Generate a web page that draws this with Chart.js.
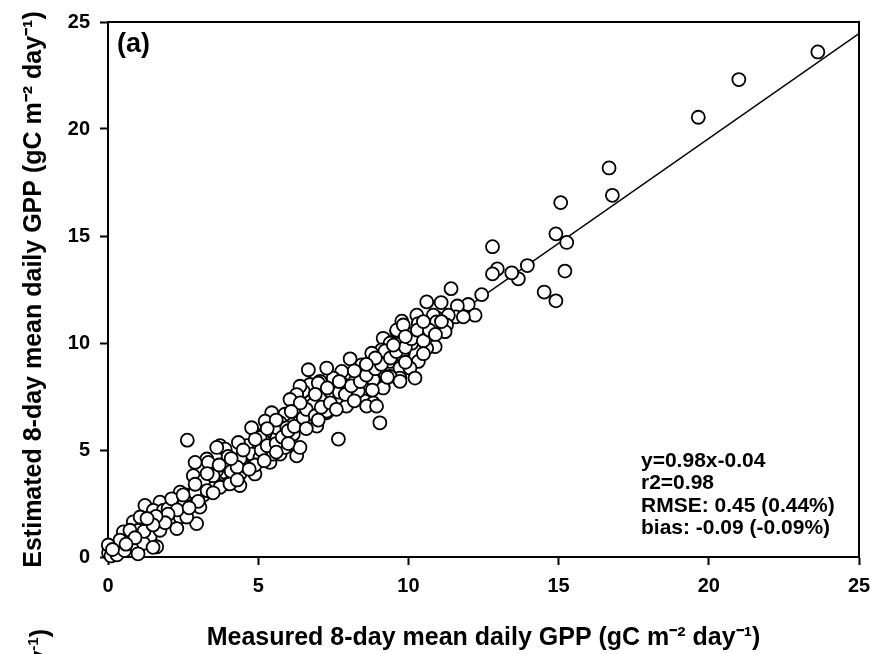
<!DOCTYPE html>
<html>
<head>
<meta charset="utf-8">
<script src="https://cdn.jsdelivr.net/npm/chart.js@4.4.0/dist/chart.umd.min.js"></script>
<style>
  html, body { margin: 0; padding: 0; background: #fff; }
  #wrap { width: 885px; height: 654px; }
</style>
</head>
<body>
<div id="wrap"><canvas id="c" width="885" height="654"></canvas></div>
<script>
// Measured (x) and estimated (y) 8-day mean daily GPP
const measured = [
  23.63, 21.0, 19.65, 16.68, 16.79, 15.07, 14.91, 15.27, 15.21, 14.52,
  14.91, 13.96, 13.66, 13.44, 12.96, 12.8, 12.8, 12.44, 11.42, 11.09,
  10.61, 11.99, 11.63, 12.22, 11.58, 10.94, 10.28, 9.78, 10.83, 11.83,
  11.33, 10.33, 10.94, 11.27, 9.61, 10.16, 10.44, 11.22, 10.72, 10.89,
  10.61, 9.16, 9.39, 9.11, 8.78, 9.83, 10.05, 10.33, 8.06, 8.45,
  8.72, 9.39, 9.72, 9.05, 10.05, 10.22, 9.72, 9.39, 8.83, 8.33,
  8.22, 9.16, 8.55, 7.83, 7.78, 7.5, 7.28, 6.67, 7.06, 6.72,
  6.5, 7.17, 7.61, 8.17, 8.55, 8.83, 7.94, 7.45, 6.83, 7.0,
  6.39, 7.39, 8.33, 6.28, 6.06, 8.61, 7.28, 5.89, 5.45, 6.39,
  6.78, 5.73, 5.23, 4.78, 9.05, 7.67, 6.17, 5.62, 5.23, 5.17,
  5.95, 6.28, 5.0, 4.62, 4.34, 3.73, 4.17, 4.62, 3.29, 3.51,
  3.9, 4.39, 4.89, 5.39, 5.73, 2.64, 3.9, 2.9, 3.62, 3.4,
  2.84, 4.0, 4.39, 3.06, 2.4, 2.73, 2.17, 1.73, 1.23, 1.51,
  1.84, 2.06, 2.4, 2.95, 2.29, 1.34, 0.84, 1.01, 0.51, 1.4,
  1.73, 1.62, 0.84, 0.29, 0.07, 0.02, 4.78, 4.62, 4.17, 3.73,
  3.17, 2.51, 3.06, 2.0, 2.12, 2.62, 1.07, 0.73, 0.4, 1.18,
  0.01, 0.18, 9.22, 9.61, 9.83, 10.39, 10.11, 9.78, 9.72, 9.16,
  8.83, 8.94, 7.28, 6.95, 6.39, 5.89, 5.5, 5.06, 5.06, 5.62,
  5.95, 3.62, 4.06, 3.34, 0.1, 0.3, 0.55, 0.15, 1.0, 1.5,
  2.3, 2.6, 2.9, 3.2, 3.5, 3.3, 2.0, 1.9, 1.6, 1.2,
  1.5, 0.9, 0.6, 1.3, 3.8, 4.1, 4.4, 4.0, 4.3, 4.9,
  5.1, 5.3, 5.6, 5.8, 6.0, 6.2, 6.5, 6.6, 6.9, 7.1,
  7.4, 7.7, 7.9, 8.1, 8.4, 8.6, 8.9, 9.1, 9.4, 9.6,
  9.9, 10.1, 10.3, 10.5, 10.7, 10.9, 11.1, 10.5, 9.9, 9.5,
  8.9, 8.6, 8.2, 7.7, 7.3, 6.9, 6.4, 6.1, 5.6, 5.3,
  4.9, 4.5, 4.1, 3.7, 3.3, 2.9, 2.5, 6.0, 6.6, 7.0,
  7.6, 8.2, 8.8, 9.3, 9.9, 10.5, 4.3, 4.7, 5.2, 5.6,
  3.5, 3.0, 2.7
];
const estimated = [
  23.6, 22.31, 20.55, 18.18, 16.9, 16.56, 15.1, 14.7, 13.36, 12.38,
  11.97, 13.62, 13.0, 13.28, 13.46, 13.23, 14.5, 12.26, 12.54, 11.89,
  11.92, 11.8, 11.73, 11.3, 11.22, 11.18, 11.3, 11.02, 11.3, 11.22,
  11.3, 10.91, 10.99, 10.84, 10.53, 10.45, 10.3, 10.53, 9.99, 9.83,
  9.75, 10.22, 9.99, 9.68, 9.52, 9.52, 10.06, 9.14, 9.26, 8.98,
  8.83, 9.14, 8.83, 8.67, 8.83, 8.36, 8.36, 8.44, 8.36, 8.44,
  8.21, 7.98, 7.82, 8.06, 8.67, 8.36, 8.83, 8.75, 8.21, 8.06,
  7.75, 7.51, 7.43, 7.43, 7.28, 7.2, 7.05, 7.05, 7.13, 8.13,
  7.98, 7.75, 7.75, 7.59, 7.36, 7.05, 6.74, 6.67, 6.74, 6.35,
  6.2, 6.28, 6.35, 6.04, 6.27, 5.51, 5.74, 5.58, 5.81, 5.43,
  5.2, 4.73, 4.73, 5.2, 5.35, 5.2, 4.42, 4.42, 4.58, 4.04,
  3.96, 3.88, 3.88, 4.42, 4.81, 5.46, 5.04, 4.42, 4.04, 3.49,
  3.8, 3.42, 3.34, 3.26, 3.03, 2.64, 2.56, 2.56, 2.41, 2.18,
  2.18, 1.79, 1.87, 1.56, 1.33, 1.48, 1.64, 1.25, 1.17, 0.94,
  1.25, 0.48, 0.48, 0.48, 0.17, 0.2, 4.81, 4.19, 3.72, 3.26,
  2.88, 2.41, 2.33, 2.26, 2.72, 1.87, 1.87, 1.25, 0.79, 0.64,
  0.56, 0.25, 9.63, 10.6, 10.84, 10.38, 9.99, 9.45, 8.21, 7.9,
  8.29, 7.05, 6.82, 6.12, 5.12, 5.12, 4.81, 4.65, 5.58, 6.04,
  6.04, 5.12, 3.42, 4.42, 0.05, 0.1, 0.3, 0.35, 0.15, 0.45,
  2.2, 2.9, 3.0, 3.6, 3.8, 3.1, 2.0, 1.6, 1.9, 1.2,
  1.5, 0.9, 0.6, 1.8, 4.3, 4.0, 4.6, 4.7, 4.2, 4.3,
  5.0, 5.2, 5.3, 5.6, 5.9, 6.1, 6.5, 6.9, 6.6, 7.0,
  7.2, 7.7, 7.6, 8.0, 8.2, 8.5, 8.8, 9.0, 9.3, 9.6,
  9.8, 10.2, 10.6, 10.1, 10.6, 10.4, 11.0, 11.0, 10.3, 9.9,
  9.3, 9.0, 8.7, 8.2, 7.9, 7.6, 7.2, 6.8, 6.4, 6.0,
  5.5, 5.0, 4.6, 4.3, 3.9, 3.4, 2.9, 5.3, 6.0, 6.4,
  6.9, 7.3, 7.8, 8.4, 9.1, 9.5, 3.6, 4.1, 4.5, 4.9,
  3.0, 2.6, 2.3
];
// Regression line y = 0.98x - 0.04, end points as printed
const fitX = [0, 25];
const fitY = [-0.04, 24.46];
const xTicks = [0, 5, 10, 15, 20, 25];
const yTicks = [0, 5, 10, 15, 20, 25];
const statsLines = ['y=0.98x-0.04', 'r2=0.98', 'RMSE: 0.45 (0.44%)', 'bias: -0.09 (-0.09%)'];
const panelLabel = '(a)';
const xTitle = 'Measured 8-day mean daily GPP (gC m\u207B\u00B2 day\u207B\u00B9)';
const yTitle = 'Estimated 8-day mean daily GPP (gC m\u207B\u00B2 day\u207B\u00B9)';

const FONT = "'Liberation Sans', Arial, Helvetica, sans-serif";

const points = measured.map((x, i) => ({x: x, y: estimated[i]}));
const fitLine = fitX.map((x, i) => ({x: x, y: fitY[i]}));

const framePlugin = {
  id: 'frame',
  afterDatasetsDraw(chart) {
    const {ctx, chartArea: a} = chart;
    ctx.save();
    ctx.strokeStyle = '#000';
    ctx.lineWidth = 2;
    ctx.beginPath();
    ctx.moveTo(a.left, a.top);
    ctx.lineTo(a.right, a.top);
    ctx.lineTo(a.right, a.bottom);
    ctx.stroke();
    ctx.restore();
  },
  afterDraw(chart) {
    const {ctx} = chart;
    ctx.save();
    ctx.fillStyle = '#000';
    // panel label
    ctx.font = 'bold 27px ' + FONT;
    ctx.textBaseline = 'middle';
    ctx.textAlign = 'left';
    ctx.fillText(panelLabel, 117, 45);
    // statistics box text
    ctx.font = 'bold 21px ' + FONT;
    statsLines.forEach((t, i) => ctx.fillText(t, 641, 461 + i * 22.4));
    // fragment of neighbouring panel's rotated axis title
    ctx.translate(48, 629);
    ctx.rotate(-Math.PI / 2);
    ctx.textBaseline = 'alphabetic';
    ctx.textAlign = 'right';
    ctx.font = 'bold 25px ' + FONT;
    ctx.fillText(')', 0, 0);
    const wp = ctx.measureText(')').width;
    ctx.font = 'bold 15px ' + FONT;
    ctx.fillText('-1', -wp, -10);
    const ws = ctx.measureText('-1').width;
    ctx.font = 'bold 25px ' + FONT;
    ctx.fillText('day', -wp - ws, 0);
    ctx.restore();
  }
};

new Chart(document.getElementById('c'), {
  type: 'scatter',
  data: {
    datasets: [
      {
        label: 'GPP',
        data: points,
        pointRadius: 6.5,
        pointHoverRadius: 6.5,
        pointBackgroundColor: '#fff',
        pointBorderColor: '#000',
        pointBorderWidth: 1.8,
        clip: false
      },
      {
        type: 'line',
        label: 'fit',
        data: fitLine,
        borderColor: '#000',
        borderWidth: 1.5,
        pointRadius: 0,
        fill: false,
        tension: 0
      }
    ]
  },
  options: {
    responsive: false,
    animation: false,
    devicePixelRatio: 1,
    layout: { padding: { left: 0, right: 26, top: 18, bottom: 0 } },
    plugins: { legend: { display: false }, tooltip: { enabled: false } },
    scales: {
      x: {
        type: 'linear',
        min: 0, max: 25,
        afterBuildTicks(s) { s.ticks = xTicks.map(v => ({value: v})); },
        afterFit(s) { s.height = 97; },
        ticks: { color: '#000', font: { family: FONT, size: 20, weight: 'bold' }, padding: 9 },
        grid: { drawOnChartArea: false, drawTicks: true, tickLength: 8, tickWidth: 2, tickColor: '#000' },
        border: { display: true, color: '#000', width: 2 },
        title: { display: true, text: xTitle, color: '#000', font: { family: FONT, size: 25, weight: 'bold' }, padding: { top: 0, bottom: 1 } }
      },
      y: {
        type: 'linear',
        min: 0, max: 25,
        afterBuildTicks(s) { s.ticks = yTicks.map(v => ({value: v})); },
        afterFit(s) { s.width = 108; },
        ticks: { color: '#000', font: { family: FONT, size: 20, weight: 'bold' }, padding: 10 },
        grid: { drawOnChartArea: false, drawTicks: true, tickLength: 8, tickWidth: 2, tickColor: '#000' },
        border: { display: true, color: '#000', width: 2 },
        title: { display: true, text: yTitle, color: '#000', font: { family: FONT, size: 25, weight: 'bold' }, padding: { top: 19, bottom: 0 } }
      }
    }
  },
  plugins: [framePlugin]
});
</script>
</body>
</html>
